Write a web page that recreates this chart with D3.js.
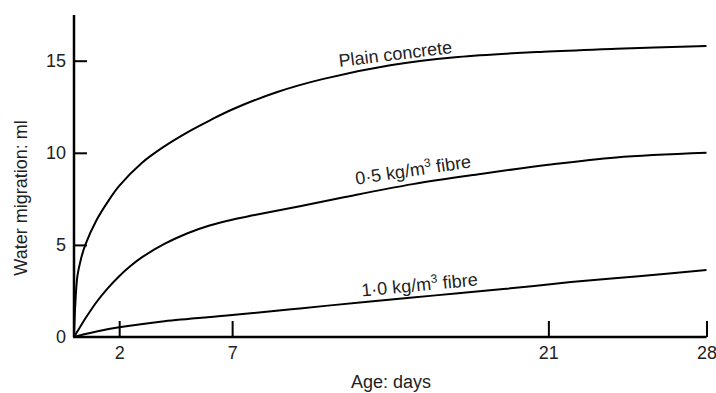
<!DOCTYPE html>
<html>
<head>
<meta charset="utf-8">
<script src="https://cdn.jsdelivr.net/npm/d3@7"></script>
<style>
  body { margin: 0; background: #fff; }
  text { font-family: "Liberation Sans", Arial, Helvetica, sans-serif; fill: #222; }
</style>
</head>
<body>
<svg id="chart" width="716" height="393"></svg>
<script>
// values (age in days, water migration in ml)
var plainDays = [0, 0.05, 0.15, 0.3, 0.5, 1, 1.5, 2, 3, 4, 5, 6, 7, 9, 11, 14, 17, 21, 24, 28];
var plainValues = [0, 1.6, 3.3, 4.2, 5.0, 6.35, 7.35, 8.2, 9.45, 10.35, 11.1, 11.75, 12.35, 13.3, 14.0, 14.75, 15.2, 15.5, 15.65, 15.8];

var fibre05Days = [0, 0.25, 0.5, 1, 1.5, 2, 2.5, 3, 4, 5, 6, 7, 8, 10, 12, 15, 18, 21, 24, 28];
var fibre05Values = [0, 0.5, 1.0, 1.9, 2.65, 3.3, 3.85, 4.32, 5.05, 5.62, 6.05, 6.37, 6.62, 7.1, 7.6, 8.3, 8.85, 9.35, 9.75, 10.0];

var fibre10Days = [0, 0.5, 1, 2, 4, 7, 10, 13, 16, 19, 22, 25, 28];
var fibre10Values = [0, 0.16, 0.3, 0.53, 0.86, 1.19, 1.55, 1.92, 2.26, 2.6, 2.98, 3.3, 3.64];

var xTicks = [2, 7, 21, 28];
var yTicks = [0, 5, 10, 15];

var svg = d3.select('#chart');

var x = d3.scaleLinear().domain([0, 28]).range([74, 706.5]);
var y = d3.scaleLinear().domain([0, 15]).range([337, 60.7]);

var line = d3.line()
  .x(function(d){ return x(d[0]); })
  .y(function(d){ return y(d[1]); })
  .curve(d3.curveCatmullRom.alpha(0.5));

function pairs(days, vals){
  return days.map(function(d, i){ return [d, vals[i]]; });
}

// curves
[pairs(plainDays, plainValues), pairs(fibre05Days, fibre05Values), pairs(fibre10Days, fibre10Values)]
  .forEach(function(s){
    svg.append('path')
      .attr('d', line(s))
      .attr('fill', 'none')
      .attr('stroke', '#000')
      .attr('stroke-width', 2);
  });

// x axis, ticks pointing up
var xAxis = svg.append('g')
  .attr('transform', 'translate(0,' + y(0) + ')')
  .call(d3.axisBottom(x).tickValues(xTicks).tickSizeInner(-16).tickSizeOuter(0).tickPadding(9));
xAxis.select('.domain').attr('stroke', '#000').attr('stroke-width', 2.5)
  .attr('d', 'M' + (x(0) - 1) + ',0H' + x(28));
xAxis.selectAll('.tick line').attr('stroke', '#000').attr('stroke-width', 2);
xAxis.selectAll('.tick text').attr('font-size', 18).attr('fill', '#222')
  .attr('font-family', '"Liberation Sans", Arial, sans-serif');

// y axis, ticks pointing right
var yAxis = svg.append('g')
  .attr('transform', 'translate(' + x(0) + ',0)')
  .call(d3.axisLeft(y).tickValues(yTicks).tickSizeInner(-13).tickSizeOuter(0).tickPadding(8));
yAxis.select('.domain').attr('stroke', '#000').attr('stroke-width', 2.5)
  .attr('d', 'M0,' + y(0) + 'V15');
yAxis.selectAll('.tick line').attr('stroke', '#000').attr('stroke-width', 2)
  .filter(function(d){ return d === 0; }).remove();
yAxis.selectAll('.tick text').attr('font-size', 18).attr('fill', '#222')
  .attr('font-family', '"Liberation Sans", Arial, sans-serif');

// axis titles
svg.append('text')
  .attr('x', 391).attr('y', 388)
  .attr('text-anchor', 'middle')
  .attr('font-size', 18)
  .text('Age: days');

svg.append('text')
  .attr('transform', 'translate(27,198) rotate(-90)')
  .attr('text-anchor', 'middle')
  .attr('font-size', 18)
  .text('Water migration: ml');

// curve labels
function curveLabel(cx, cy, angle, parts){
  var t = svg.append('text')
    .attr('transform', 'translate(' + cx + ',' + cy + ') rotate(' + angle + ')')
    .attr('text-anchor', 'middle')
    .attr('font-size', 18);
  parts.forEach(function(p){
    var ts = t.append('tspan').text(p.t);
    if (p.sup) ts.attr('font-size', 12).attr('dy', -7);
    if (p.down) ts.attr('dy', 7);
  });
}

curveLabel(396, 60, -7, [{t: 'Plain concrete'}]);
curveLabel(414, 176, -8.5, [{t: '0·5 kg/m'}, {t: '3', sup: true}, {t: ' fibre', down: true}]);
curveLabel(420, 291, -5.5, [{t: '1·0 kg/m'}, {t: '3', sup: true}, {t: ' fibre', down: true}]);
</script>
</body>
</html>
